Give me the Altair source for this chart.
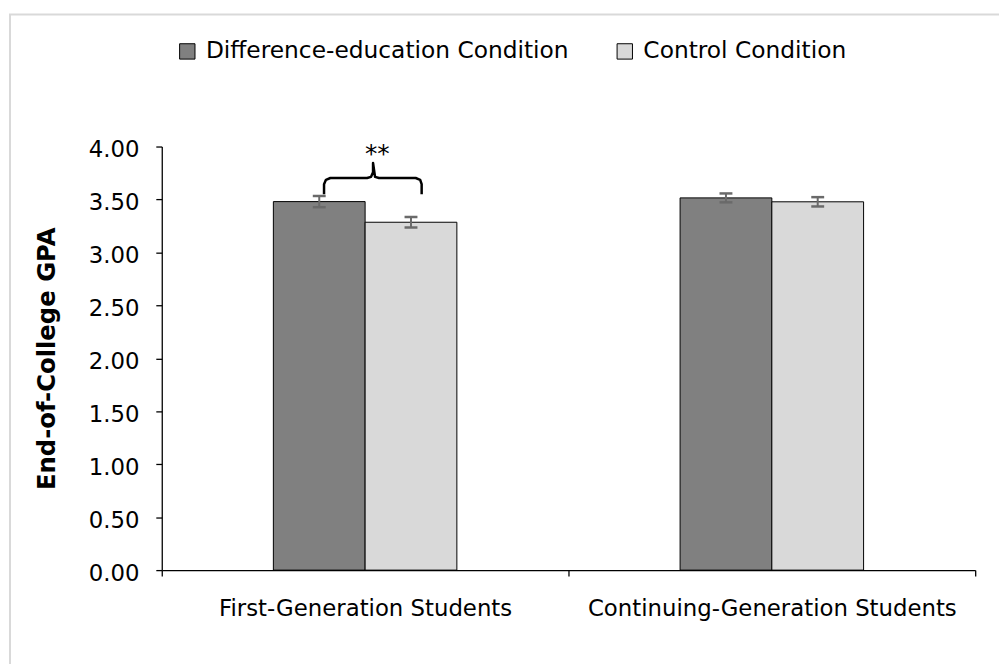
import altair as alt
import pandas as pd

# ---- data ----
groups = ["First-Generation Students", "Continuing-Generation Students"]
conditions = ["Difference-education Condition", "Control Condition"]
gpa_difference = [3.480, 3.515]
gpa_control = [3.285, 3.478]
err_difference = [0.053, 0.042]
err_control = [0.050, 0.044]
y_tick_values = [0.0, 0.5, 1.0, 1.5, 2.0, 2.5, 3.0, 3.5, 4.0]
colors = ["#808080", "#d9d9d9"]

# significance bracket (data units: x = category axis 0..2, y = GPA)
bracket_x = [0.399, 0.399, 0.4037, 0.4146, 0.5049, 0.5146, 0.5195, 0.5195,
             0.5244, 0.5341, 0.6244, 0.6354, 0.639, 0.639]
bracket_y = [3.550, 3.644, 3.686, 3.703, 3.703, 3.714, 3.756, 3.844,
             3.714, 3.703, 3.703, 3.686, 3.644, 3.550]
sig_label = ["**"]
sig_x = [0.53]
sig_y = [3.85]

FONT = "DejaVu Sans"
BAR_W = 0.2256  # bar width in category units

rows = []
for i, g in enumerate(groups):
    for j, (c, m, e) in enumerate(zip(conditions,
                                      [gpa_difference[i], gpa_control[i]],
                                      [err_difference[i], err_control[i]])):
        left = i + 0.5 + (j - 1) * BAR_W
        rows.append(dict(group=g, condition=c, gpa=m, lo=m - e, hi=m + e,
                         x=left, x2=left + BAR_W, xc=left + BAR_W / 2))
df = pd.DataFrame(rows)

bdf = pd.DataFrame({"bx": bracket_x, "by": bracket_y, "k": list(range(len(bracket_x)))})
sdf = pd.DataFrame({"label": sig_label, "sx": sig_x, "sy": sig_y})

x_scale = alt.Scale(domain=[0, 2], nice=False, zero=False)
y_scale = alt.Scale(domain=[0, 4], nice=False)

x_axis = alt.Axis(
    values=[0, 0.5, 1, 1.5, 2],
    labelExpr="datum.value == 0.5 ? 'First-Generation Students' : "
              "(datum.value == 1.5 ? 'Continuing-Generation Students' : '')",
    tickOpacity={"condition": {"test": "datum.value == 0.5 || datum.value == 1.5", "value": 0}, "value": 1},
    grid=False, title=None, tickSize=6, labelPadding=22, labelOverlap=False,
    labelFlush=False, labelBound=False, labelLimit=0,
)
y_axis = alt.Axis(
    values=y_tick_values, format=".2f", grid=False, tickSize=6, labelPadding=17,
    title="End-of-College GPA", titleFontWeight="bold", titlePadding=29,
    titleFontSize=24.5, labelOffset=3, titleLimit=0,
)

frame = alt.Chart(pd.DataFrame({"a": [0]})).mark_rect(
    fillOpacity=0, stroke="#d9d9d9", strokeWidth=2
).encode(x=alt.value(-153), x2=alt.value(900), y=alt.value(-133), y2=alt.value(700))

bars = alt.Chart(df).mark_rect(stroke="black", strokeWidth=1).encode(
    x=alt.X("x:Q", scale=x_scale, axis=x_axis),
    x2="x2:Q",
    y=alt.Y("gpa:Q", scale=y_scale, axis=y_axis),
    y2=alt.datum(0),
    color=alt.Color(
        "condition:N",
        scale=alt.Scale(domain=conditions, range=colors),
        legend=alt.Legend(
            title=None, orient="none", legendX=14, legendY=-108,
            direction="horizontal", symbolType="square", symbolSize=240,
            symbolStrokeColor="black", symbolStrokeWidth=1, symbolOpacity=1,
            labelFont=FONT, labelFontSize=23.5, labelColor="black",
            columnPadding=44, labelOffset=7, padding=0, labelLimit=0,
        ),
    ),
)

err = alt.Chart(df).mark_rule(color="#6a6a6a", strokeWidth=2).encode(
    x="xc:Q", y="lo:Q", y2="hi:Q"
)
cap_lo = alt.Chart(df).mark_tick(orient="horizontal", color="#6a6a6a", size=13,
                                 thickness=2.5, opacity=1).encode(x="xc:Q", y="lo:Q")
cap_hi = alt.Chart(df).mark_tick(orient="horizontal", color="#6a6a6a", size=13,
                                 thickness=2.5, opacity=1).encode(x="xc:Q", y="hi:Q")

bracket = alt.Chart(bdf).mark_line(color="black", strokeWidth=2.5, strokeJoin="round").encode(
    x="bx:Q", y="by:Q", order="k:Q"
)
sig = alt.Chart(sdf).mark_text(font=FONT, fontSize=25, color="black",
                               baseline="alphabetic", align="center").encode(
    x="sx:Q", y="sy:Q", text="label:N"
)

chart = alt.layer(frame, bars, err, cap_lo, cap_hi, bracket, sig).properties(
    width=820, height=427,
    padding={"left": 155, "top": 137, "right": 24, "bottom": 92},
    autosize=alt.AutoSizeParams(type="none"),
).configure_view(stroke=None).configure_axis(
    labelFont=FONT, labelFontSize=23, labelColor="black",
    titleFont=FONT, titleColor="black",
    domainColor="black", domainWidth=1.3, tickColor="black", tickWidth=1.3,
)

chart.save("out.html", embed_options={"renderer": "svg", "actions": False})
